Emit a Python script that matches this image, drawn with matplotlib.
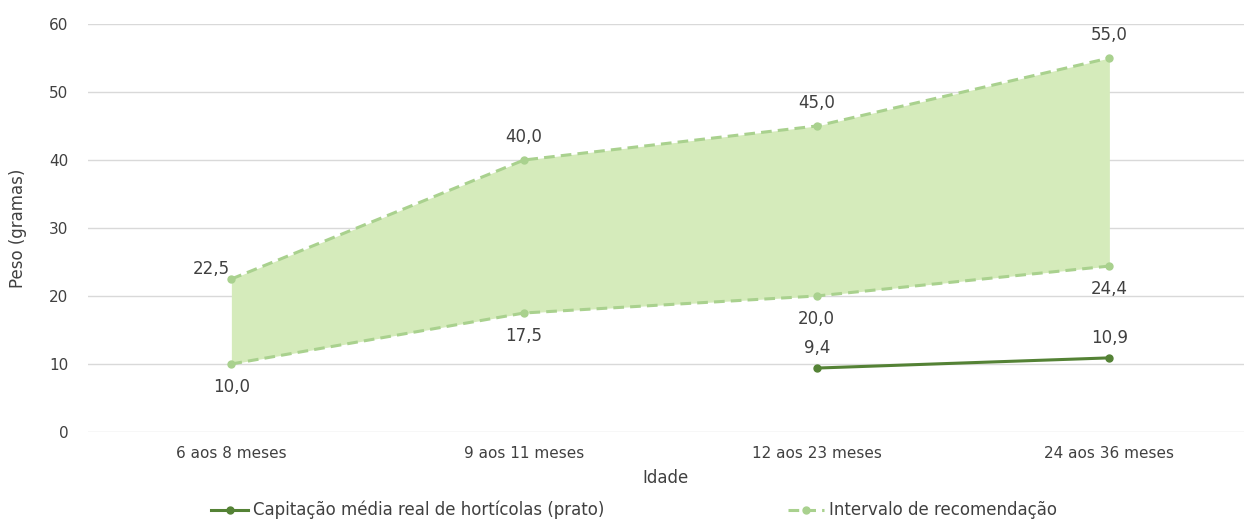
import numpy as np
import matplotlib.pyplot as plt

categories = ["6 aos 8 meses", "9 aos 11 meses", "12 aos 23 meses", "24 aos 36 meses"]
rec_max = [22.5, 40.0, 45.0, 55.0]
rec_min = [10.0, 17.5, 20.0, 24.4]
real = [np.nan, np.nan, 9.4, 10.9]

TEXT = "#404040"
FILL = "#d5ebbb"
LIGHT = "#a9d18e"
DARK = "#548235"

plt.rcParams['font.family'] = ['DejaVu Sans']

def fmt(v):
    return f"{v:.1f}".replace(".", ",")

def main():
    fig = plt.figure(figsize=(12.44, 5.24), dpi=100)
    ax = fig.add_axes([0.0707, 0.1756, 0.9293, 0.7786])
    x = np.arange(len(categories))

    ax.fill_between(x, rec_min, rec_max, color=FILL, lw=0, zorder=1)
    ax.plot(x, rec_max, ls=(0, (3.5, 2)), color=LIGHT, lw=2.2, marker="o", ms=5, zorder=3)
    ax.plot(x, rec_min, ls=(0, (3.5, 2)), color=LIGHT, lw=2.2, marker="o", ms=5, zorder=3,
            label="Intervalo de recomendação")
    ax.plot(x, real, color=DARK, lw=2.2, marker="o", ms=5, zorder=4,
            label="Capitação média real de hortícolas (prato)")

    # upper bound labels sit above, first one tucked left of its point
    for i, v in enumerate(rec_max):
        if i == 0:
            ax.annotate(fmt(v), (x[i], v), xytext=(-1, 1), textcoords="offset points",
                        ha="right", va="bottom", fontsize=12, color=TEXT)
        else:
            ax.annotate(fmt(v), (x[i], v), xytext=(0, 10), textcoords="offset points",
                        ha="center", va="bottom", fontsize=12, color=TEXT)
    for i, v in enumerate(rec_min):
        ax.annotate(fmt(v), (x[i], v), xytext=(0, -10), textcoords="offset points",
                    ha="center", va="top", fontsize=12, color=TEXT)
    for i, v in enumerate(real):
        if np.isnan(v):
            continue
        ax.annotate(fmt(v), (x[i], v), xytext=(0, 8), textcoords="offset points",
                    ha="center", va="bottom", fontsize=12, color=TEXT)

    ax.set_xlim(-0.49, 3.46)
    ax.set_ylim(0, 60)
    ax.set_yticks(range(0, 61, 10))
    ax.set_xticks(x)
    ax.set_xticklabels(categories)
    ax.grid(axis="y", color="#d9d9d9", lw=1)
    ax.set_axisbelow(True)
    for s in ax.spines.values():
        s.set_visible(False)
    ax.tick_params(length=0, labelsize=11, colors=TEXT, pad=10)
    ax.tick_params(axis="y", pad=14)
    ax.set_xlabel("Idade", fontsize=12, color=TEXT, labelpad=6)
    ax.set_ylabel("Peso (gramas)", fontsize=12, color=TEXT, labelpad=16)

    handles, labels = ax.get_legend_handles_labels()
    fig.legend(handles[::-1], labels[::-1], loc="lower center", ncol=2, frameon=False,
               bbox_to_anchor=(0.51, -0.02), fontsize=12, labelcolor=TEXT,
               columnspacing=11, handlelength=2.2, handletextpad=0.3)

    fig.savefig("out.png", dpi=100)

if __name__ == "__main__":
    main()
